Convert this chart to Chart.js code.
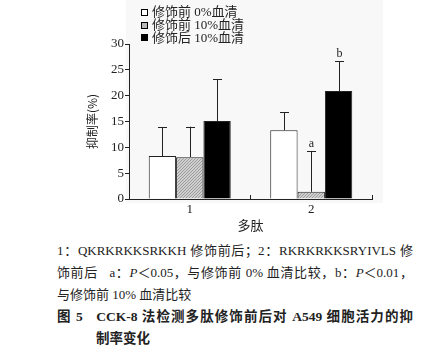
<!DOCTYPE html>
<html>
<head>
<meta charset="utf-8">
<script src="https://cdn.jsdelivr.net/npm/chart.js@4"></script>
<style>
  body { margin: 0; width: 436px; height: 358px; background: #fff; position: relative; overflow: hidden;
         font-family: "Liberation Serif", "Noto Sans CJK SC", serif; color: #222; }
  #plotBg { position: absolute; left: 126px; top: 0; width: 257px; height: 203px; background: #f8f8f8; }
  #wrap { position: absolute; left: 0; top: 0; width: 436px; height: 240px; }
  #legend { position: absolute; left: 141px; top: 6px; font-size: 13px; line-height: 12.8px; }
  #legend div { display: flex; align-items: center; white-space: nowrap; }
  #legend span.box { display: inline-block; width: 7px; height: 7px; border: 1px solid #000; margin-right: 4px; box-sizing: border-box; }
  #caption { position: absolute; left: 57px; top: 240px; width: 356px; font-size: 13px; line-height: 22px; }
  #caption .j { text-align: justify; text-align-last: justify; white-space: nowrap; }
  #caption .b { font-weight: bold; font-size: 13.5px; }
</style>
</head>
<body>
<div id="plotBg"></div>
<div id="wrap"><canvas id="cckChart" width="436" height="240"></canvas></div>
<div id="legend"></div>
<div id="caption">
  <div class="j">1：QKRKRKKSRKKH 修饰前后；2：RKRKRKKSRYIVLS 修</div>
  <div class="j">饰前后 &nbsp;&nbsp;a：<i>P</i>＜0.05，与修饰前 0% 血清比较，b：<i>P</i>＜0.01，</div>
  <div>与修饰前 10% 血清比较</div>
  <div class="j b">图 5 &nbsp; CCK-8 法检测多肽修饰前后对 A549 细胞活力的抑</div>
  <div class="b" style="padding-left:39px">制率变化</div>
</div>
<script>
// datos
const categories = ['1', '2'];
const seriesLabels = ['修饰前 0%血清', '修饰前 10%血清', '修饰后 10%血清'];
const before0 = [8.3, 13.3];
const before10 = [8.1, 1.4];
const after10 = [15.1, 20.9];
const before0Err = [5.6, 3.5];
const before10Err = [5.9, 7.9];
const after10Err = [8.1, 5.8];
const before10Marks = ['', 'a'];
const after10Marks = ['', 'b'];
const yTicks = [0, 5, 10, 15, 20, 25, 30];

// patrón rayado fino para la serie gris
function hatch() {
    const c = document.createElement('canvas');
    c.width = 3; c.height = 3;
    const g = c.getContext('2d');
    g.fillStyle = '#cfcfcf';
    g.fillRect(0, 0, 3, 3);
    g.fillStyle = '#9c9c9c';
    g.fillRect(2, 0, 1, 1);
    g.fillRect(1, 1, 1, 1);
    g.fillRect(0, 2, 1, 1);
    return g.createPattern(c, 'repeat');
}

const fills = ['#ffffff', hatch(), '#000000'];

// leyenda HTML
const legendEl = document.getElementById('legend');
seriesLabels.forEach(function(lbl, i) {
    const row = document.createElement('div');
    const box = document.createElement('span');
    box.className = 'box';
    box.style.background = i === 1 ? '#b8b8b8' : fills[i];
    row.appendChild(box);
    row.appendChild(document.createTextNode(lbl));
    legendEl.appendChild(row);
});

// barras de error (solo hacia arriba) y letras de significancia
const errorBars = {
    id: 'errorBars',
    afterDatasetsDraw(chart) {
        const ctx = chart.ctx;
        const y = chart.scales.y;
        ctx.save();
        ctx.strokeStyle = '#222';
        ctx.lineWidth = 1;
        ctx.fillStyle = '#222';
        ctx.font = '12px "Liberation Serif", serif';
        ctx.textAlign = 'center';
        ctx.textBaseline = 'bottom';
        chart.data.datasets.forEach(function(ds, di) {
            chart.getDatasetMeta(di).data.forEach(function(bar, i) {
                const top = y.getPixelForValue(ds.data[i] + ds.errors[i]);
                const x = Math.round(bar.x) + 0.5;
                ctx.beginPath();
                ctx.moveTo(x, bar.y);
                ctx.lineTo(x, top);
                ctx.moveTo(x - 4.5, Math.round(top) + 0.5);
                ctx.lineTo(x + 4.5, Math.round(top) + 0.5);
                ctx.stroke();
                if (ds.marks && ds.marks[i]) {
                    ctx.fillText(ds.marks[i], x, top - 1);
                }
            });
        });
        ctx.restore();
    }
};

new Chart(document.getElementById('cckChart').getContext('2d'), {
    type: 'bar',
    data: {
        labels: categories,
        datasets: [
            { label: seriesLabels[0], data: before0, errors: before0Err, backgroundColor: fills[0] },
            { label: seriesLabels[1], data: before10, errors: before10Err, marks: before10Marks, backgroundColor: fills[1] },
            { label: seriesLabels[2], data: after10, errors: after10Err, marks: after10Marks, backgroundColor: fills[2] }
        ]
    },
    options: {
        responsive: false,
        animation: false,
        devicePixelRatio: 1,
        layout: { padding: { top: 44, left: 0, right: 64, bottom: 0 } },
        datasets: {
            bar: {
                borderColor: '#222',
                borderWidth: 1,
                barPercentage: 1.0,
                categoryPercentage: 0.675
            }
        },
        plugins: {
            legend: { display: false },
            tooltip: { enabled: false }
        },
        scales: {
            x: {
                afterFit: function(scale) { scale.height = 41; },
                grid: { drawOnChartArea: false, tickLength: -4, color: '#222', offset: true },
                border: { color: '#222', width: 1 },
                ticks: { padding: 7, color: '#222', font: { family: '"Liberation Serif", serif', size: 13 } },
                title: {
                    display: true,
                    text: '多肽',
                    color: '#222',
                    font: { family: '"Noto Sans CJK SC", sans-serif', size: 13 },
                    padding: { top: 0, bottom: 7 }
                }
            },
            y: {
                min: 0,
                max: 30,
                afterFit: function(scale) { scale.width = 129; },
                afterBuildTicks: function(scale) {
                    scale.ticks = yTicks.map(function(v) { return { value: v }; });
                },
                grid: { drawOnChartArea: false, tickLength: 4, color: '#222' },
                border: { color: '#222', width: 1 },
                ticks: { padding: 1, color: '#222', font: { family: '"Liberation Serif", serif', size: 13 } },
                title: {
                    display: true,
                    text: '抑制率(%)',
                    color: '#222',
                    font: { family: '"Noto Sans CJK SC", sans-serif', size: 12 },
                    padding: { top: 85, bottom: 0 }
                }
            }
        }
    },
    plugins: [errorBars]
});
</script>
</body>
</html>
